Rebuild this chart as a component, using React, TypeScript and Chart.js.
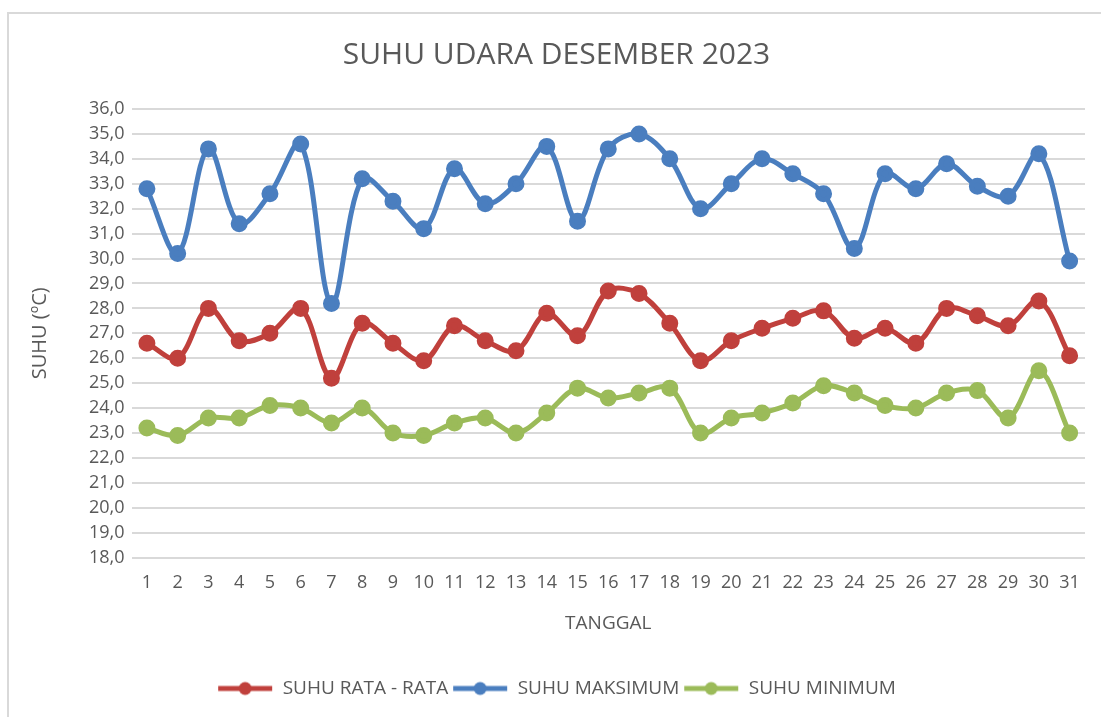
import React, { useEffect, useRef } from "react";
import { Chart, registerables } from "chart.js";

Chart.register(...registerables);

const tanggal: string[] = Array.from({ length: 31 }, (_, i) => String(i + 1));

const suhuRataRata: number[] = [
  26.6, 26.0, 28.0, 26.7, 27.0, 28.0, 25.2, 27.4, 26.6, 25.9,
  27.3, 26.7, 26.3, 27.8, 26.9, 28.7, 28.6, 27.4, 25.9, 26.7,
  27.2, 27.6, 27.9, 26.8, 27.2, 26.6, 28.0, 27.7, 27.3, 28.3, 26.1,
];

const suhuMaksimum: number[] = [
  32.8, 30.2, 34.4, 31.4, 32.6, 34.6, 28.2, 33.2, 32.3, 31.2,
  33.6, 32.2, 33.0, 34.5, 31.5, 34.4, 35.0, 34.0, 32.0, 33.0,
  34.0, 33.4, 32.6, 30.4, 33.4, 32.8, 33.8, 32.9, 32.5, 34.2, 29.9,
];

const suhuMinimum: number[] = [
  23.2, 22.9, 23.6, 23.6, 24.1, 24.0, 23.4, 24.0, 23.0, 22.9,
  23.4, 23.6, 23.0, 23.8, 24.8, 24.4, 24.6, 24.8, 23.0, 23.6,
  23.8, 24.2, 24.9, 24.6, 24.1, 24.0, 24.6, 24.7, 23.6, 25.5, 23.0,
];

const seriesNames: string[] = ["SUHU RATA - RATA", "SUHU MAKSIMUM", "SUHU MINIMUM"];
const seriesColors: string[] = ["#C0403C", "#4A7EBF", "#9BBB59"];

const FONT = "'Open Sans', 'Noto Sans', sans-serif";
const TEXT = "#595959";

function makeLegendMarker(color: string): HTMLCanvasElement {
  const c = document.createElement("canvas");
  c.width = 58;
  c.height = 16;
  const ctx = c.getContext("2d")!;
  ctx.strokeStyle = color;
  ctx.lineWidth = 5;
  ctx.beginPath();
  ctx.moveTo(2, 8);
  ctx.lineTo(56, 8);
  ctx.stroke();
  ctx.fillStyle = color;
  ctx.beginPath();
  ctx.arc(29, 8, 6.5, 0, Math.PI * 2);
  ctx.fill();
  return c;
}

export default function App() {
  const canvasRef = useRef<HTMLCanvasElement | null>(null);

  useEffect(() => {
    document.body.style.margin = "0";
    const canvas = canvasRef.current;
    if (!canvas) return;
    const seriesData = [suhuRataRata, suhuMaksimum, suhuMinimum];
    const markers = seriesColors.map(makeLegendMarker);
    const chart = new Chart(canvas, {
      type: "line",
      data: {
        labels: tanggal,
        datasets: seriesNames.map((name, i) => ({
          label: name,
          data: seriesData[i],
          borderColor: seriesColors[i],
          backgroundColor: seriesColors[i],
          pointBackgroundColor: seriesColors[i],
          pointBorderColor: seriesColors[i],
          borderWidth: 5,
          pointRadius: 6,
          pointHoverRadius: 6,
          tension: 0.35,
          fill: false,
        })),
      },
      options: {
        responsive: false,
        animation: false,
        maintainAspectRatio: false,
        layout: { padding: { left: 28, right: 16, top: 20, bottom: 9 } },
        plugins: {
          title: {
            display: true,
            text: "SUHU UDARA DESEMBER 2023",
            color: TEXT,
            font: { family: FONT, size: 30, weight: "normal" },
            padding: { top: 17, bottom: 36 },
          },
          legend: {
            position: "bottom",
            labels: {
              usePointStyle: true,
              pointStyleWidth: 56,
              color: TEXT,
              font: { family: FONT, size: 19 },
              padding: 4,
              generateLabels: (ch: any) =>
                ch.data.datasets.map((ds: any, i: number) => ({
                  text: ds.label,
                  fillStyle: ds.borderColor,
                  strokeStyle: ds.borderColor,
                  fontColor: TEXT,
                  lineWidth: 0,
                  pointStyle: markers[i],
                  hidden: false,
                  datasetIndex: i,
                })),
            },
          },
          tooltip: { enabled: false },
        },
        scales: {
          x: {
            offset: true,
            grid: { display: false },
            border: { display: false },
            ticks: {
              color: TEXT,
              font: { family: FONT, size: 18 },
              padding: 6,
              maxRotation: 0,
              autoSkip: false,
            },
            title: {
              display: true,
              text: "TANGGAL",
              color: TEXT,
              font: { family: FONT, size: 19 },
              padding: { top: 13, bottom: 40 },
            },
          },
          y: {
            min: 18,
            max: 36,
            grid: { color: "#D9D9D9", lineWidth: 2, drawTicks: false },
            border: { display: false },
            ticks: {
              stepSize: 1,
              color: TEXT,
              font: { family: FONT, size: 18 },
              padding: 7,
              callback: (v: any) => Number(v).toFixed(1).replace(".", ","),
            },
            title: {
              display: true,
              text: "SUHU (ºC)",
              color: TEXT,
              font: { family: FONT, size: 20 },
              padding: { top: 0, bottom: 30 },
            },
          },
        },
      },
    });
    return () => chart.destroy();
  }, []);

  return (
    <div style={{ position: "relative", width: 1101, height: 717, overflow: "hidden", background: "#fff" }}>
      <div
        style={{
          position: "absolute",
          left: 7,
          top: 12,
          width: 1101,
          height: 717,
          borderTop: "2px solid #D9D9D9",
          borderLeft: "2px solid #D9D9D9",
        }}
      />
      <canvas ref={canvasRef} width={1101} height={717} style={{ position: "absolute", left: 0, top: 0 }} />
    </div>
  );
}
